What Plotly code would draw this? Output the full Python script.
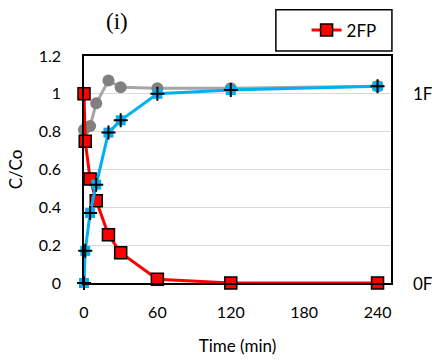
import plotly.graph_objects as go

# Data
t_red = [0, 1, 5, 10, 20, 30, 60, 120, 240]
c_red = [1.0, 0.75, 0.55, 0.435, 0.255, 0.16, 0.02, 0.0, 0.0]

t_gray = [0, 5, 10, 20, 30, 60, 120, 240]
c_gray = [0.81, 0.83, 0.95, 1.07, 1.035, 1.03, 1.03, 1.04]

t_blue = [0, 1, 5, 10, 20, 30, 60, 120, 240]
c_blue = [0.0, 0.17, 0.37, 0.52, 0.795, 0.86, 1.0, 1.02, 1.04]

x_ticks = [0, 60, 120, 180, 240]
y_ticks = [0, 0.2, 0.4, 0.6, 0.8, 1.0, 1.2]
right_labels = {"1F": 1.0, "0F": 0.0}

FONT = "Lato"

fig = go.Figure()

fig.add_trace(go.Scatter(
    x=t_gray, y=c_gray, mode="lines+markers", showlegend=False,
    line=dict(color="#A6A6A6", width=3),
    marker=dict(symbol="circle", size=12, color="#808080"),
    cliponaxis=False))

fig.add_trace(go.Scatter(
    x=t_red, y=c_red, mode="lines+markers", name="2FP",
    line=dict(color="#FF0000", width=3),
    marker=dict(symbol="square", size=12, color="#FF0000",
                line=dict(color="black", width=1.5)),
    cliponaxis=False))

fig.add_trace(go.Scatter(
    x=t_blue, y=c_blue, mode="lines+markers", showlegend=False,
    line=dict(color="#00B0F0", width=3),
    marker=dict(symbol="square", size=10, color="#00B0F0"),
    cliponaxis=False))

fig.add_trace(go.Scatter(
    x=t_blue, y=c_blue, mode="markers", showlegend=False,
    marker=dict(symbol="cross-thin", size=10, color="black",
                line=dict(color="black", width=2)),
    cliponaxis=False))

for label, yv in right_labels.items():
    fig.add_annotation(x=1.066, y=yv, xref="paper", yref="y", text=label,
                       showarrow=False, xanchor="left", yanchor="middle",
                       font=dict(family=FONT, size=17, color="black"))

fig.add_annotation(x=0.107, y=1.0, xref="paper", yref="paper", yshift=35,
                   text="(i)", showarrow=False, xanchor="center", yanchor="middle",
                   font=dict(family="Liberation Serif", size=23, color="black"))

# legend frame
fig.add_shape(type="rect", xref="paper", yref="paper",
              x0=0.625, x1=1.003, y0=1.0217, y1=1.204,
              line=dict(color="black", width=1.5), fillcolor="rgba(0,0,0,0)")

fig.update_layout(
    width=432, height=363,
    margin=dict(l=84, r=41, t=53, b=80),
    paper_bgcolor="white", plot_bgcolor="white",
    font=dict(family=FONT, size=15, color="black"),
    showlegend=True,
    legend=dict(x=0.725, xanchor="left", y=1.113, yanchor="middle",
                borderwidth=0, bgcolor="rgba(0,0,0,0)",
                font=dict(family=FONT, size=17, color="black")),
    xaxis=dict(range=[0, 251], tickvals=x_ticks, showgrid=False,
               showline=True, linecolor="black", linewidth=1.5, mirror=True,
               ticks="", ticklabelstandoff=14, zeroline=False, automargin=False,
               tickfont=dict(size=16),
               title=dict(text="Time (min)", font=dict(family=FONT, size=17), standoff=20)),
    yaxis=dict(range=[0, 1.2], tickvals=y_ticks, showgrid=True,
               gridcolor="#D9D9D9", gridwidth=1.2,
               showline=True, linecolor="black", linewidth=1.5, mirror=True,
               ticks="", ticklabelstandoff=18, zeroline=False, automargin=False,
               tickfont=dict(size=16),
               title=dict(text="C/Co", font=dict(family=FONT, size=17), standoff=12)),
)

fig.write_html("out.html")
